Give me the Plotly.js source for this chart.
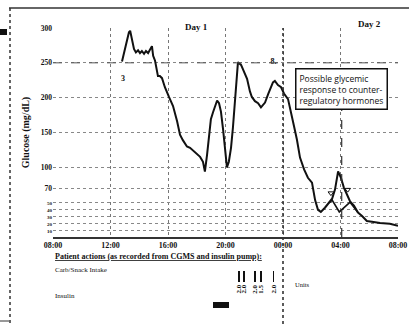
<!DOCTYPE html>
<html>
<head>
<meta charset="utf-8">
<script src="https://cdn.plot.ly/plotly-3.0.1.min.js"></script>
<style>html,body{margin:0;padding:0;background:#fff;}#chart{width:409px;height:324px;}</style>
</head>
<body>
<div id="chart"></div>
<script>
// ---- data ----
const glucoseTime = [
 '2009-01-01 12:48','2009-01-01 13:01','2009-01-01 13:09','2009-01-01 13:17','2009-01-01 13:22',
 '2009-01-01 13:30','2009-01-01 13:38','2009-01-01 13:46','2009-01-01 13:55','2009-01-01 14:03',
 '2009-01-01 14:11','2009-01-01 14:20','2009-01-01 14:28','2009-01-01 14:37','2009-01-01 14:45',
 '2009-01-01 14:53','2009-01-01 14:58','2009-01-01 15:06','2009-01-01 15:18','2009-01-01 15:26',
 '2009-01-01 15:35','2009-01-01 15:47','2009-01-01 16:04','2009-01-01 16:21','2009-01-01 16:38',
 '2009-01-01 16:50','2009-01-01 17:02','2009-01-01 17:11','2009-01-01 17:19','2009-01-01 17:32',
 '2009-01-01 17:44','2009-01-01 17:57','2009-01-01 18:14','2009-01-01 18:26','2009-01-01 18:34',
 '2009-01-01 18:43','2009-01-01 18:51','2009-01-01 18:59','2009-01-01 19:08','2009-01-01 19:16',
 '2009-01-01 19:25','2009-01-01 19:33','2009-01-01 19:41','2009-01-01 19:50','2009-01-01 19:58',
 '2009-01-01 20:06','2009-01-01 20:14','2009-01-01 20:23','2009-01-01 20:31','2009-01-01 20:40',
 '2009-01-01 20:48','2009-01-01 20:52','2009-01-01 21:05','2009-01-01 21:17','2009-01-01 21:30',
 '2009-01-01 21:42','2009-01-01 21:50','2009-01-01 22:03','2009-01-01 22:16','2009-01-01 22:28',
 '2009-01-01 22:37','2009-01-01 22:45','2009-01-01 22:58','2009-01-01 23:06','2009-01-01 23:18',
 '2009-01-01 23:26','2009-01-01 23:39','2009-01-01 23:52','2009-01-02 00:04','2009-01-02 00:21',
 '2009-01-02 00:34','2009-01-02 00:46','2009-01-02 00:58','2009-01-02 01:11','2009-01-02 01:28',
 '2009-01-02 01:44','2009-01-02 02:01','2009-01-02 02:14','2009-01-02 02:26','2009-01-02 02:38',
 '2009-01-02 02:55','2009-01-02 03:12','2009-01-02 03:25','2009-01-02 03:37','2009-01-02 03:50',
 '2009-01-02 04:02','2009-01-02 04:14','2009-01-02 04:27','2009-01-02 04:40','2009-01-02 04:56',
 '2009-01-02 05:13','2009-01-02 05:30','2009-01-02 05:50','2009-01-02 06:11','2009-01-02 06:45',
 '2009-01-02 07:26','2009-01-02 08:00'
];
const glucoseValue = [
 252,270,280,294,296, 284,270,265,268,264, 267,263,267,264,270, 274,260,253,231,231,
 228,215,201,188,166, 147,139,133,130,128, 124,121,115,108,94, 118,140,169,179,186,
 196,192,180,154,123, 100,108,128,157,198, 241,251,247,237,227, 209,201,195,192,186,
 189,193,205,212,222, 224,218,215,206,198, 180,159,140,114,97, 85,78,53,39,36,
 42,49,55,68,94, 85,71,61,51,45, 35,30,23,22,20, 19,16
];
// alternate (lower) path drawn under the possible counter-regulatory spike
const altTime  = ['2009-01-02 03:12','2009-01-02 03:25','2009-01-02 03:55','2009-01-02 04:15','2009-01-02 04:40','2009-01-02 05:13'];
const altValue = [49,53,36,42,50,35];

// small marks on the curve
const markTime  = ['2009-01-02 03:20','2009-01-02 04:30'];
const markValue = [63,68];
const noteTime  = ['2009-01-01 12:52','2009-01-01 23:20'];
const noteValue = [227,251];
const noteText  = ['3','8.'];

// x ticks: 08:00 day 1 to 08:00 day 2 every 4 h
const xStart = '2009-01-01 08:00';
const xEnd   = '2009-01-02 08:00';
const yTicks = [300,250,200,150,100,70,50,40,30,20,10];
const dayBoundary = '2009-01-02 00:00';
const targetHigh = 250;
const dayLabels = ['Day 1','Day 2'];
const dayLabelTime = ['2009-01-01 18:00','2009-01-02 06:00'];

const responseTime = '2009-01-02 04:05';
const responseLabel = 'Possible glycemic<br>response to counter-<br>regulatory hormones';
const responseTop = 183;

// patient actions
const carbTime  = ['2009-01-01 20:56','2009-01-01 21:17','2009-01-01 22:03','2009-01-01 22:28','2009-01-01 23:22'];
const carbUnits = [2.0,2.0,2.0,1.5,2.0];
const insulinTime = ['2009-01-01 19:41'];
const insulinDurationMin = [67];

// ---- build ----
const serif = 'Liberation Serif, Times New Roman, serif';
const sans = 'Open Sans, DejaVu Sans, sans-serif';
const ink = '#111111';

const traces = [
  {x: glucoseTime, y: glucoseValue, type: 'scatter', mode: 'lines',
   line: {color: ink, width: 2}, xaxis: 'x', yaxis: 'y', hoverinfo: 'skip'},
  {x: altTime, y: altValue, type: 'scatter', mode: 'lines',
   line: {color: ink, width: 1.6}, xaxis: 'x', yaxis: 'y', hoverinfo: 'skip'},
  {x: markTime, y: markValue, type: 'scatter', mode: 'markers',
   marker: {symbol: 'triangle-down-open', size: 5, color: ink, line: {width: 1, color: ink}},
   xaxis: 'x', yaxis: 'y', hoverinfo: 'skip'},
  {x: noteTime, y: noteValue, type: 'scatter', mode: 'text', text: noteText,
   textfont: {family: serif, size: 8, color: ink, weight: 'bold'}, xaxis: 'x', yaxis: 'y', hoverinfo: 'skip'},
  // carb bars
  {x: carbTime, y: carbTime.map(() => 0.8), base: carbTime.map(() => 2.1), type: 'bar',
   width: carbTime.map(() => 5*60*1000), marker: {color: ink}, xaxis: 'x2', yaxis: 'y2', hoverinfo: 'skip'},
  // insulin block
  {x: insulinTime, y: [0.45], base: [0.15], type: 'bar',
   width: insulinDurationMin.map(m => m*60*1000), marker: {color: ink}, xaxis: 'x2', yaxis: 'y2', hoverinfo: 'skip'}
];

const H = 296, T = 28, PL = 53, PW = 345;
const py = p => (324 - p) / H;   // pixel row -> paper y
const px = p => (p - PL) / PW;   // pixel col -> paper x

const annotations = [
  ...dayLabels.map((d, i) => ({xref: 'x', yref: 'paper', x: dayLabelTime[i], y: py(i === 0 ? 20 : 17),
     text: d, showarrow: false, font: {family: serif, size: 9, color: ink, weight: 'bold'}})),
  {xref: 'x', yref: 'y', x: responseTime, y: 213, text: responseLabel, showarrow: false, align: 'left',
   bordercolor: ink, borderwidth: 1.5, borderpad: 3, bgcolor: '#fff',
   font: {family: sans, size: 8.5, color: ink}},
  {xref: 'paper', yref: 'paper', x: 0, y: py(263), xanchor: 'left', text: '<u>Patient actions (as recorded from CGMS and insulin pump):</u>',
   showarrow: false, font: {family: serif, size: 8, color: ink, weight: 'bold'}},
  {xref: 'paper', yref: 'paper', x: 0, y: py(276), xanchor: 'left', text: 'Carb/Snack Intake',
   showarrow: false, font: {family: serif, size: 7, color: ink}},
  {xref: 'paper', yref: 'paper', x: 0, y: py(302), xanchor: 'left', text: 'Insulin',
   showarrow: false, font: {family: serif, size: 7, color: ink}},
  {xref: 'paper', yref: 'paper', x: px(293), y: py(290), xanchor: 'left', text: 'Units',
   showarrow: false, font: {family: serif, size: 6.5, color: ink}},
  ...carbTime.map((t, i) => ({xref: 'x2', yref: 'y2', x: t, y: 1.6, text: carbUnits[i].toFixed(1),
     textangle: -90, showarrow: false, font: {family: serif, size: 7, color: ink, weight: 'bold'}}))
];

const shapes = [
  {type: 'line', xref: 'x', yref: 'paper', x0: dayBoundary, x1: dayBoundary, y0: 0, y1: 1,
   line: {color: '#333', width: 1.6, dash: 'dot'}},
  {type: 'line', xref: 'paper', yref: 'y', x0: 0, x1: 1, y0: targetHigh, y1: targetHigh,
   line: {color: '#555', width: 1, dash: 'dash'}},
  {type: 'line', xref: 'x', yref: 'y', x0: responseTime, x1: responseTime, y0: 0, y1: responseTop,
   line: {color: '#333', width: 1.2, dash: 'dash'}},
  // page border (scan edge)
  {type: 'line', xref: 'paper', yref: 'paper', x0: px(9), x1: px(409), y0: py(8), y1: py(8), line: {color: '#333', width: 1.5}},
  {type: 'line', xref: 'paper', yref: 'paper', x0: px(10), x1: px(10), y0: py(8), y1: py(324), line: {color: '#333', width: 1.5, dash: 'dot'}},
  {type: 'rect', xref: 'paper', yref: 'paper', x0: px(0), x1: px(7), y0: py(35), y1: py(29), line: {width: 0}, fillcolor: ink},
  {type: 'line', xref: 'paper', yref: 'paper', x0: px(0), x1: px(9), y0: py(321), y1: py(321), line: {color: '#333', width: 1}}
];

const layout = {
  width: 409, height: 324,
  margin: {l: PL, r: 11, t: T, b: 0},
  font: {family: serif, color: ink},
  paper_bgcolor: '#fff', plot_bgcolor: '#fff',
  showlegend: false,
  bargap: 0,
  xaxis: {type: 'date', range: [xStart, xEnd], domain: [0, 1], anchor: 'y',
    tick0: xStart, dtick: 4*3600*1000, tickformat: '%H:%M',
    tickfont: {family: serif, size: 8, color: ink, weight: 'bold'}, ticks: '',
    showgrid: true, gridcolor: '#777', griddash: 'dot', gridwidth: 1,
    showline: true, linecolor: '#333', linewidth: 1.5, mirror: false, zeroline: false, fixedrange: true},
  yaxis: {range: [0, 300], domain: [py(237), 1], anchor: 'x',
    tickvals: yTicks,
    ticktext: yTicks.map(v => v < 70 ? '<span style="font-size:5px">' + v + '</span>' : String(v)),
    tickfont: {family: serif, size: 7.5, color: ink, weight: 'bold'},
    ticks: '', showgrid: true, gridcolor: '#888', griddash: 'dot', gridwidth: 1,
    showline: false, zeroline: false,
    title: {text: 'Glucose (mg/dL)', standoff: 9, font: {family: serif, size: 10, color: ink, weight: 'bold'}}},
  xaxis2: {type: 'date', range: [xStart, xEnd], domain: [0, 1], anchor: 'y2', visible: false},
  yaxis2: {range: [0, 3], domain: [py(310), py(270)], anchor: 'x2', visible: false},
  annotations: annotations,
  shapes: shapes
};

Plotly.newPlot('chart', traces, layout, {staticPlot: true, displayModeBar: false});
</script>
</body>
</html>
